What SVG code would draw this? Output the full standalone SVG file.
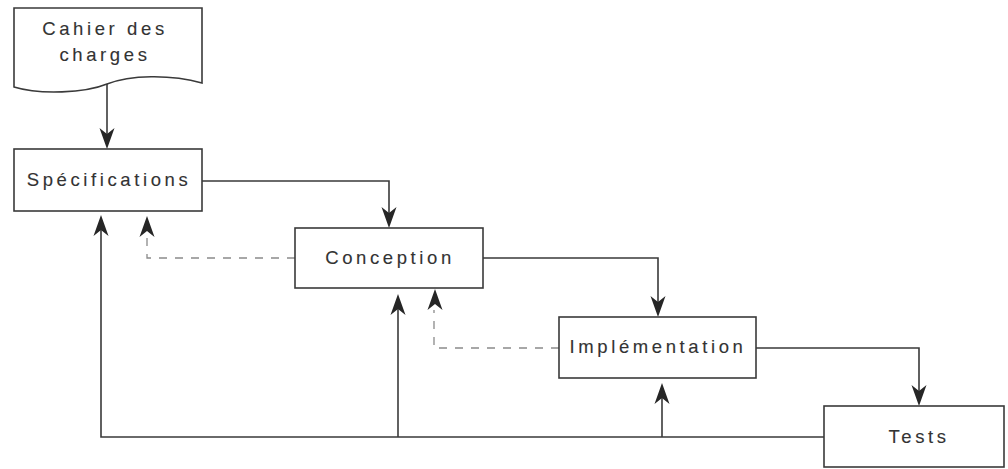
<svg xmlns="http://www.w3.org/2000/svg" xmlns:xlink="http://www.w3.org/1999/xlink" width="1008" height="469" viewBox="0 0 1008 469">
  <style>
    .box { fill: #ffffff; stroke: #3a3a3a; stroke-width: 1.6; }
    .lbl { font-family: "Liberation Sans", Arial, sans-serif; font-size: 18.5px; letter-spacing: 3.6px; fill: #333333; stroke: #333333; stroke-width: 0.12; text-anchor: middle; }
    .flow { fill: none; stroke: #3a3a3a; stroke-width: 1.6; }
    .back { fill: none; stroke: #8a8a8a; stroke-width: 1.3; stroke-dasharray: 8 8; }
    .head { fill: #262626; }
  </style>
  <defs>
    <!-- barbed arrowhead, tip at origin, pointing up -->
    <path id="ahUp" class="head" d="M0,0 L7.5,21 L0,15 L-7.5,21 Z"/>
  </defs>
  <rect width="1008" height="469" fill="#ffffff"/>

  <g id="connectors">
    <!-- forward flow -->
    <path class="flow" d="M107,84 V140"/>
    <path class="flow" d="M202,181 H389 V220"/>
    <path class="flow" d="M483,258 H658 V309"/>
    <path class="flow" d="M756,348 H919 V398"/>
    <!-- return paths from Tests -->
    <path class="flow" d="M824,437 H101 V225"/>
    <path class="flow" d="M398,437 V304"/>
    <path class="flow" d="M662,437 V393"/>
    <!-- dashed iteration loops -->
    <path class="back" d="M295,258 H147 V238"/>
    <path class="back" d="M559,348 H434 V310"/>
    <!-- arrowheads -->
    <use xlink:href="#ahUp" transform="translate(107,149) rotate(180)"/>
    <use xlink:href="#ahUp" transform="translate(389,228) rotate(180)"/>
    <use xlink:href="#ahUp" transform="translate(658,317) rotate(180)"/>
    <use xlink:href="#ahUp" transform="translate(919,406) rotate(180)"/>
    <use xlink:href="#ahUp" transform="translate(101,215)"/>
    <use xlink:href="#ahUp" transform="translate(147,216)"/>
    <use xlink:href="#ahUp" transform="translate(398,294)"/>
    <use xlink:href="#ahUp" transform="translate(435,289)"/>
    <use xlink:href="#ahUp" transform="translate(662,383)"/>
  </g>

  <g id="cahier">
    <path class="box" d="M14,8 H202 V83 C170,74 130,75 107,84 C85,93 40,95 14,87 Z"/>
    <text class="lbl" x="105" y="35">Cahier des</text>
    <text class="lbl" x="105" y="61">charges</text>
  </g>

  <g id="specifications">
    <rect class="box" x="14" y="149" width="188" height="62"/>
    <text class="lbl" x="109" y="186">Spécifications</text>
  </g>

  <g id="conception">
    <rect class="box" x="295" y="228" width="188" height="60"/>
    <text class="lbl" x="390" y="264">Conception</text>
  </g>

  <g id="implementation">
    <rect class="box" x="559" y="317" width="197" height="61"/>
    <text class="lbl" x="658" y="353">Implémentation</text>
  </g>

  <g id="tests">
    <rect class="box" x="824" y="406" width="180" height="61"/>
    <text class="lbl" x="919" y="443">Tests</text>
  </g>
</svg>
